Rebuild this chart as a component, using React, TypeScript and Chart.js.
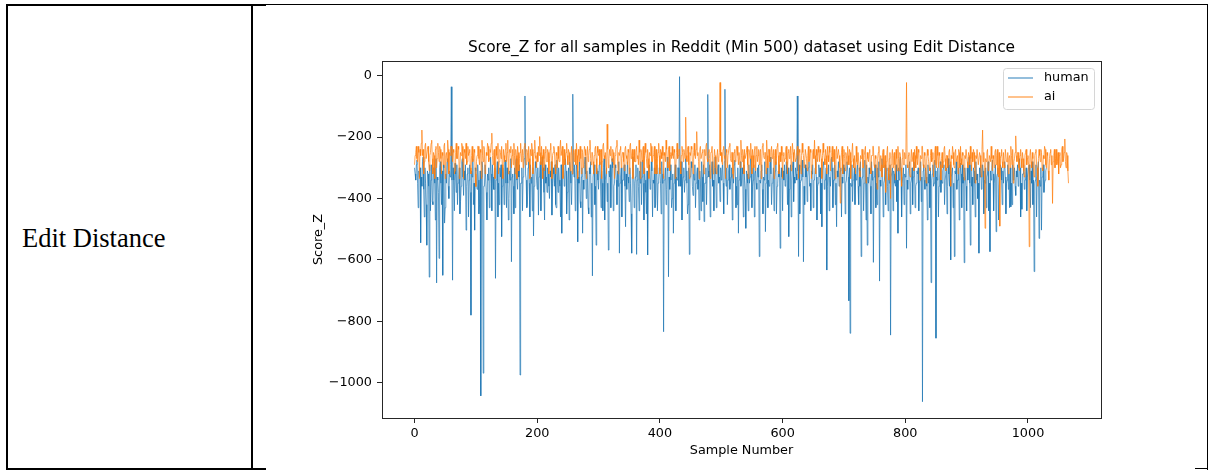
import React, { useEffect, useRef } from "react";
import { Chart, registerables } from "chart.js";

Chart.register(...registerables);

// ---- data (one value per sample number) ----
const SAMPLE_STEP = 1;

const seriesNames = ["human", "ai"];

const human = [
  -300, -320, -340, -290, -275, -350, -430, -310, -330, -300, -544, -330, -360, -280, -265, -370, -460, -300, -350, -420,
  -552, -310, -320, -360, -656, -290, -440, -340, -290, -410, -420, -300, -300, -350, -470, -270, -675, -330, -340, -380,
  -595, -300, -280, -350, -420, -310, -650, -290, -300, -480, -430, -320, -350, -280, -270, -360, -400, -310, -330, -290,
  -36, -340, -666, -300, -340, -440, -285, -320, -380, -290, -420, -350, -330, -300, -450, -410, -360, -280, -270, -330,
  -390, -310, -340, -290, -503, -360, -320, -300, -460, -340, -290, -380, -780, -310, -330, -270, -420, -350, -503, -300,
  -310, -350, -370, -290, -340, -450, -420, -310, -1043, -330, -280, -300, -969, -360, -360, -290, -290, -380, -470, -320,
  -340, -300, -430, -350, -265, -320, -440, -290, -330, -370, -370, -300, -660, -340, -310, -280, -460, -350, -420, -300,
  -330, -290, -524, -360, -300, -320, -420, -280, -275, -350, -430, -300, -350, -470, -400, -310, -340, -270, -606, -330,
  -320, -360, -450, -300, -430, -280, -270, -340, -370, -310, -330, -290, -975, -350, -350, -300, -440, -330, -300, -270,
  -66, -320, -340, -430, -420, -300, -280, -350, -460, -290, -350, -330, -440, -300, -522, -360, -330, -280, -300, -340,
  -370, -300, -454, -330, -320, -280, -440, -350, -265, -310, -300, -380, -470, -290, -350, -330, -380, -300, -320, -360,
  -400, -310, -330, -280, -454, -350, -300, -320, -360, -290, -420, -430, -275, -330, -380, -300, -340, -360, -460, -290,
  -513, -330, -320, -290, -360, -340, -270, -310, -450, -380, -340, -300, -470, -280, -310, -350, -420, -320, -60, -300,
  -330, -290, -440, -350, -290, -310, -541, -330, -350, -280, -410, -430, -330, -300, -513, -340, -370, -290, -265, -320,
  -400, -310, -340, -430, -450, -300, -320, -280, -460, -350, -652, -330, -330, -290, -420, -360, -552, -300, -310, -340,
  -370, -290, -280, -330, -430, -310, -350, -440, -300, -270, -470, -340, -340, -300, -410, -350, -568, -310, -330, -290,
  -430, -330, -270, -300, -440, -360, -350, -290, -300, -340, -420, -310, -360, -280, -578, -350, -330, -300, -460, -340,
  -340, -300, -290, -360, -492, -320, -370, -280, -330, -350, -410, -300, -350, -450, -578, -330, -265, -300, -430, -350,
  -330, -290, -582, -340, -300, -360, -440, -310, -350, -280, -420, -330, -275, -350, -470, -300, -340, -380, -450, -310,
  -584, -330, -330, -290, -370, -350, -280, -310, -460, -340, -350, -300, -430, -420, -320, -290, -440, -350, -340, -300,
  -310, -350, -450, -280, -350, -320, -834, -340, -330, -300, -420, -370, -265, -310, -655, -330, -370, -290, -340, -430,
  -400, -320, -513, -350, -320, -290, -440, -330, -340, -300, -300, -360, -3, -320, -360, -280, -470, -350, -330, -300,
  -380, -340, -270, -310, -350, -450, -420, -300, -582, -330, -330, -280, -300, -360, -390, -320, -340, -290, -430, -350,
  -320, -300, -370, -340, -470, -310, -340, -440, -280, -330, -410, -290, -475, -350, -350, -300, -420, -330, -61, -310,
  -330, -290, -460, -350, -310, -280, -360, -340, -440, -300, -265, -320, -430, -360, -300, -290, -350, -330, -410, -300,
  -340, -310, -290, -350, -450, -280, -44, -330, -360, -300, -420, -340, -310, -290, -370, -350, -330, -300, -470, -320,
  -350, -290, -275, -330, -430, -360, -420, -300, -513, -340, -330, -280, -360, -350, -300, -320, -460, -290, -340, -370,
  -497, -310, -320, -350, -440, -290, -350, -330, -270, -300, -430, -360, -340, -290, -460, -320, -310, -350, -370, -300,
  -330, -290, -589, -340, -350, -310, -290, -370, -450, -330, -340, -280, -508, -350, -320, -300, -430, -340, -360, -290,
  -265, -320, -420, -350, -340, -300, -440, -330, -310, -280, -450, -360, -350, -310, -330, -290, -562, -340, -300, -330,
  -440, -310, -340, -290, -360, -350, -280, -320, -420, -300, -524, -370, -330, -290, -460, -340, -300, -280, -410, -330,
  -350, -300, -320, -340, -66, -310, -589, -290, -450, -350, -340, -300, -275, -330, -606, -360, -420, -290, -330, -300,
  -410, -330, -300, -280, -360, -350, -440, -310, -320, -290, -430, -340, -340, -300, -270, -330, -470, -360, -350, -290,
  -330, -300, -450, -350, -492, -310, -290, -280, -370, -340, -340, -300, -633, -360, -320, -290, -440, -330, -360, -310,
  -265, -300, -430, -340, -340, -290, -420, -350, -492, -310, -330, -280, -360, -340, -310, -300, -460, -330, -350, -290,
  -320, -300, -450, -350, -340, -280, -280, -330, -733, -300, -839, -350, -360, -290, -410, -340, -330, -300, -420, -320,
  -340, -310, -290, -360, -420, -300, -360, -280, -589, -340, -330, -300, -440, -350, -275, -320, -470, -290, -552, -330,
  -350, -300, -320, -360, -450, -280, -340, -310, -608, -330, -300, -290, -430, -350, -420, -300, -330, -280, -669, -340,
  -360, -300, -270, -330, -460, -350, -340, -290, -420, -310, -300, -360, -440, -320, -350, -290, -845, -330, -330, -300,
  -440, -310, -320, -350, -360, -290, -410, -340, -513, -300, -340, -280, -265, -330, -460, -350, -350, -300, -420, -320,
  -330, -290, -562, -340, -370, -310, -310, -280, -450, -350, -340, -300, -420, -330, -280, -290, -430, -360, -350, -310,
  -320, -300, -440, -350, -340, -280, -410, -330, -1062, -310, -290, -340, -370, -300, -330, -360, -470, -290, -350, -320,
  -430, -300, -674, -340, -320, -290, -360, -350, -275, -310, -855, -330, -340, -300, -460, -360, -330, -280, -380, -340,
  -350, -310, -300, -290, -420, -340, -340, -300, -450, -360, -270, -320, -360, -290, -600, -330, -330, -300, -430, -350,
  -589, -310, -320, -280, -370, -340, -340, -300, -470, -350, -285, -320, -430, -290, -350, -330, -609, -300, -330, -360,
  -440, -300, -340, -310, -265, -350, -552, -290, -360, -330, -420, -300, -310, -350, -460, -280, -340, -320, -400, -350,
  -578, -300, -330, -290, -370, -350, -290, -310, -450, -340, -350, -300, -430, -330, -320, -280, -440, -350, -573, -310,
  -340, -300, -275, -320, -440, -350, -350, -290, -508, -330, -320, -300, -470, -360, -360, -290, -300, -340, -420, -310,
  -350, -300, -280, -330, -450, -350, -340, -290, -370, -320, -430, -300, -427, -350, -420, -290, -340, -330, -300, -360,
  -390, -310, -330, -290, -360, -340, -270, -300, -460, -350, -435, -320, -320, -290, -370, -340, -340, -300, -440, -330,
  -330, -300, -290, -340, -430, -310, -350, -280, -420, -340, -638, -350, -340, -290, -460, -330, -300, -280, -530, -340,
  -360, -300, -503, -330, -320, -290, -380, -350, -340, -310, -300,
];

const ai = [
  -290, -260, -250, -230, -270, -280, -230, -250, -335, -240, -260, -220, -177, -260, -240, -320, -280, -230, -220, -270,
  -270, -240, -230, -280, -310, -260, -250, -220, -210, -270, -320, -250, -260, -335, -240, -230, -300, -270, -220, -250,
  -280, -230, -240, -270, -320, -250, -260, -290, -230, -220, -335, -260, -250, -280, -210, -240, -320, -250, -260, -230,
  -230, -260, -280, -240, -250, -320, -310, -250, -220, -270, -270, -230, -240, -335, -290, -250, -260, -220, -230, -280,
  -335, -240, -250, -270, -220, -290, -280, -230, -260, -250, -240, -300, -320, -260, -230, -280, -270, -240, -250, -320,
  -361, -280, -260, -230, -230, -270, -290, -240, -250, -335, -210, -260, -280, -230, -240, -320, -300, -250, -260, -220,
  -230, -280, -270, -240, -250, -220, -187, -260, -290, -250, -240, -335, -310, -230, -260, -270, -220, -320, -280, -240,
  -250, -270, -230, -290, -335, -240, -260, -280, -240, -220, -280, -250, -210, -320, -270, -240, -250, -230, -300, -260,
  -240, -290, -220, -260, -320, -240, -260, -335, -230, -250, -310, -270, -250, -220, -280, -260, -240, -300, -260, -230,
  -220, -260, -290, -240, -250, -280, -230, -270, -335, -240, -260, -220, -240, -320, -280, -250, -210, -260, -270, -300,
  -250, -280, -230, -260, -198, -250, -290, -230, -260, -335, -240, -270, -310, -250, -230, -280, -280, -240, -250, -320,
  -270, -240, -220, -280, -335, -260, -250, -230, -240, -290, -320, -250, -260, -300, -230, -270, -280, -240, -210, -260,
  -260, -230, -335, -270, -240, -290, -270, -250, -220, -260, -290, -240, -250, -280, -310, -260, -230, -320, -260, -240,
  -280, -250, -240, -290, -220, -260, -335, -240, -260, -280, -230, -270, -320, -240, -250, -300, -270, -230, -240, -260,
  -335, -260, -230, -280, -260, -240, -210, -270, -290, -250, -250, -280, -320, -260, -240, -230, -270, -320, -230, -250,
  -260, -240, -290, -250, -240, -335, -280, -230, -220, -260, -270, -250, -250, -320, -158, -240, -300, -270, -240, -260,
  -230, -270, -280, -240, -250, -290, -335, -260, -240, -230, -210, -280, -320, -250, -260, -240, -230, -300, -270, -250,
  -250, -280, -310, -240, -230, -260, -270, -290, -240, -250, -320, -230, -220, -270, -260, -240, -335, -260, -240, -280,
  -280, -250, -230, -270, -260, -290, -210, -250, -335, -240, -250, -280, -240, -230, -320, -260, -220, -250, -270, -300,
  -240, -270, -335, -250, -260, -220, -230, -280, -280, -260, -250, -230, -320, -270, -240, -320, -270, -250, -220, -260,
  -320, -240, -250, -270, -230, -260, -335, -250, -260, -280, -210, -240, -280, -300, -240, -230, -310, -260, -250, -270,
  -230, -260, -270, -240, -250, -335, -290, -250, -220, -270, -260, -240, -240, -280, -320, -260, -230, -250, -280, -240,
  -250, -270, -135, -260, -280, -240, -230, -290, -335, -250, -260, -230, -240, -280, -320, -250, -220, -260, -270, -240,
  -182, -260, -250, -280, -335, -240, -230, -270, -270, -250, -240, -300, -320, -240, -260, -230, -220, -270, -280, -250,
  -240, -270, -335, -250, -250, -230, -230, -320, -280, -240, -260, -300, -320, -260, -240, -280, -270, -250, -22, -260,
  -250, -280, -290, -240, -230, -260, -270, -335, -240, -250, -300, -260, -260, -230, -220, -270, -280, -250, -250, -320,
  -335, -250, -240, -280, -270, -230, -230, -260, -290, -250, -250, -300, -210, -260, -280, -240, -260, -320, -240, -270,
  -270, -250, -230, -290, -335, -240, -250, -270, -220, -260, -320, -240, -260, -300, -240, -230, -310, -260, -230, -280,
  -260, -240, -290, -250, -240, -335, -280, -230, -220, -260, -270, -250, -250, -320, -210, -260, -300, -240, -240, -280,
  -280, -250, -230, -270, -260, -240, -335, -260, -240, -290, -270, -230, -220, -260, -320, -250, -250, -280, -230, -260,
  -335, -260, -250, -280, -270, -240, -230, -290, -320, -250, -240, -270, -260, -230, -310, -260, -220, -250, -280, -240,
  -240, -280, -270, -250, -230, -260, -335, -240, -250, -290, -320, -260, -220, -250, -260, -300, -280, -240, -240, -270,
  -310, -260, -230, -280, -270, -240, -250, -335, -290, -250, -240, -270, -210, -260, -320, -240, -260, -280, -230, -250,
  -280, -240, -250, -270, -335, -260, -220, -250, -270, -290, -240, -260, -320, -230, -260, -280, -230, -250, -310, -270,
  -250, -230, -280, -260, -240, -290, -335, -250, -230, -270, -270, -240, -260, -300, -415, -280, -250, -230, -320, -260,
  -240, -270, -310, -250, -260, -290, -230, -260, -290, -240, -250, -335, -280, -250, -220, -270, -300, -260, -260, -320,
  -230, -280, -290, -250, -250, -310, -330, -260, -270, -240, -240, -300, -300, -260, -260, -230, -350, -290, -250, -270,
  -280, -250, -240, -300, -320, -260, -260, -230, -230, -290, -300, -260, -270, -320, -370, -270, -250, -230, -290, -310,
  -260, -290, -330, -250, -240, -300, -290, -260, -380, -280, -250, -230, -300, -340, -270, -250, -400, -290, -260, -240,
  -300, -260, -250, -290, -340, -240, -270, -310, -230, -270, -310, -250, -260, -300, -360, -270, -240, -290, -290, -250,
  -270, -250, -22, -290, -300, -260, -250, -320, -330, -270, -240, -280, -280, -250, -310, -240, -260, -300, -230, -270,
  -290, -240, -250, -300, -340, -260, -270, -230, -230, -290, -300, -250, -260, -310, -350, -270, -240, -260, -280, -300,
  -310, -260, -240, -280, -270, -250, -330, -280, -250, -230, -290, -300, -230, -260, -300, -250, -260, -290, -340, -270,
  -250, -300, -280, -240, -230, -270, -310, -260, -260, -300, -290, -250, -240, -280, -360, -260, -270, -230, -250, -290,
  -300, -250, -240, -280, -280, -260, -320, -240, -250, -300, -230, -270, -290, -250, -260, -310, -340, -260, -270, -240,
  -240, -280, -300, -250, -260, -290, -230, -270, -310, -250, -280, -240, -250, -300, -350, -260, -270, -240, -240, -290,
  -290, -250, -260, -300, -330, -240, -177, -280, -250, -300, -497, -270, -280, -250, -240, -310, -300, -260, -260, -280,
  -230, -270, -310, -260, -270, -300, -250, -240, -290, -260, -240, -320, -330, -250, -490, -270, -260, -240, -280, -300,
  -250, -290, -300, -240, -240, -280, -280, -250, -320, -270, -260, -300, -230, -260, -290, -240, -350, -280, -270, -250,
  -196, -260, -280, -250, -250, -300, -310, -260, -240, -270, -300, -250, -270, -310, -330, -260, -250, -240, -290, -270,
  -260, -290, -557, -260, -240, -280, -300, -250, -270, -310, -330, -260, -250, -240, -290, -300, -360, -270, -240, -260,
  -280, -240, -250, -300, -310, -260, -270, -230, -240, -290, -300, -250, -260, -310, -340, -270, -250, -240, -290, -260,
  -416, -280, -260, -240, -300, -270, -240, -290, -280, -250, -320, -260, -250, -300, -290, -240, -230, -280, -270, -250,
  -206, -280, -300, -250, -260, -310, -350,
];

const xTicks = [0, 200, 400, 600, 800, 1000];
const yTicks = [-1000, -800, -600, -400, -200, 0];
const X_MIN = -53;
const X_MAX = 1119;
const Y_MIN = -1115;
const Y_MAX = 48;

const chartTitle = "Score_Z for all samples in Reddit (Min 500) dataset using Edit Distance";
const xLabel = "Sample Number";
const yLabel = "Score_Z";
const rowLabel = "Edit Distance";

// ---- styles ----
const FONT = '"DejaVu Sans", Verdana, sans-serif';
const HUMAN_COLOR = "rgba(31,119,180,0.8)";
const AI_COLOR = "rgba(255,127,14,0.8)";
const seriesColors = [HUMAN_COLOR, AI_COLOR];

const fmt = (v: number) => (v < 0 ? "\u2212" + Math.abs(v) : String(v));

const decorPlugin = {
  id: "decor",
  afterDraw(chart: any) {
    const { ctx, chartArea: a } = chart;
    ctx.save();
    // spines
    ctx.strokeStyle = "#262626";
    ctx.lineWidth = 1;
    ctx.strokeRect(
      Math.round(a.left) + 0.5,
      Math.round(a.top) + 0.5,
      Math.round(a.right - a.left),
      Math.round(a.bottom - a.top)
    );
    // title
    ctx.fillStyle = "#000";
    ctx.textAlign = "center";
    ctx.textBaseline = "middle";
    ctx.font = `15.4px ${FONT}`;
    ctx.fillText(chartTitle, (a.left + a.right) / 2, a.top - 13);
    // x label
    ctx.font = `12.8px ${FONT}`;
    ctx.fillText(xLabel, (a.left + a.right) / 2, a.bottom + 33);
    // y label
    ctx.save();
    ctx.translate(a.left - 63, (a.top + a.bottom) / 2);
    ctx.rotate(-Math.PI / 2);
    ctx.fillText(yLabel, 0, 0);
    ctx.restore();
    // legend
    const bw = 91;
    const bh = 41;
    const bx = a.right - 7 - bw;
    const by = a.top + 7;
    ctx.beginPath();
    ctx.roundRect(bx + 0.5, by + 0.5, bw, bh, 3);
    ctx.fillStyle = "rgba(255,255,255,0.8)";
    ctx.fill();
    ctx.strokeStyle = "#d6d6d6";
    ctx.lineWidth = 1;
    ctx.stroke();
    ctx.textAlign = "left";
    ctx.font = `12.8px ${FONT}`;
    seriesNames.forEach((name, i) => {
      const ly = by + 10 + i * 19;
      ctx.strokeStyle = seriesColors[i];
      ctx.lineWidth = 1.2;
      ctx.beginPath();
      ctx.moveTo(bx + 5, ly);
      ctx.lineTo(bx + 30, ly);
      ctx.stroke();
      ctx.fillStyle = "#000";
      ctx.fillText(name, bx + 41, ly);
    });
    ctx.restore();
  },
};

const tickFont = { family: FONT, size: 12.8 };

export default function App() {
  const ref = useRef<HTMLCanvasElement | null>(null);

  useEffect(() => {
    if (!ref.current) return;
    const chart = new Chart(ref.current, {
      type: "line",
      data: {
        datasets: [
          {
            label: seriesNames[0],
            data: human.map((y, i) => ({ x: i * SAMPLE_STEP, y })),
            borderColor: HUMAN_COLOR,
            borderWidth: 0.9,
            pointRadius: 0,
            tension: 0,
            fill: false,
            borderJoinStyle: "round",
            order: 1,
          },
          {
            label: seriesNames[1],
            data: ai.map((y, i) => ({ x: i * SAMPLE_STEP, y })),
            borderColor: AI_COLOR,
            borderWidth: 0.9,
            pointRadius: 0,
            tension: 0,
            fill: false,
            borderJoinStyle: "round",
            order: 0,
          },
        ],
      },
      options: {
        animation: false,
        responsive: false,
        events: [],
        layout: { padding: { top: 51, right: 99, left: 0, bottom: 0 } },
        plugins: {
          legend: { display: false },
          title: { display: false },
          tooltip: { enabled: false },
        },
        scales: {
          x: {
            type: "linear",
            min: X_MIN,
            max: X_MAX,
            border: { display: false },
            grid: {
              display: true,
              drawOnChartArea: false,
              drawTicks: true,
              tickLength: 5,
              color: "#262626",
              lineWidth: 1,
            },
            ticks: {
              font: tickFont,
              color: "#000",
              padding: 3,
              maxRotation: 0,
              autoSkip: false,
              callback: (v: any) => fmt(Number(v)),
            },
            afterBuildTicks: (s: any) => {
              s.ticks = xTicks.map((value) => ({ value }));
            },
            afterFit: (s: any) => {
              s.height = 47;
            },
          },
          y: {
            type: "linear",
            min: Y_MIN,
            max: Y_MAX,
            border: { display: false },
            grid: {
              display: true,
              drawOnChartArea: false,
              drawTicks: true,
              tickLength: 5,
              color: "#262626",
              lineWidth: 1,
            },
            ticks: {
              font: tickFont,
              color: "#000",
              padding: 5,
              autoSkip: false,
              callback: (v: any) => fmt(Number(v)),
            },
            afterBuildTicks: (s: any) => {
              s.ticks = yTicks.map((value) => ({ value }));
            },
            afterFit: (s: any) => {
              s.width = 122;
            },
          },
        },
      } as any,
      plugins: [decorPlugin],
    });
    return () => chart.destroy();
  }, []);

  const line = (l: number, t: number, w: number, h: number) => (
    <div style={{ position: "absolute", left: l, top: t, width: w, height: h, background: "#000" }} />
  );

  return (
    <div style={{ position: "absolute", left: 0, top: 0, width: 1209, height: 470, background: "#fff", overflow: "hidden" }}>
      {line(6, 4, 260, 2)}
      {line(266, 4, 942, 1)}
      {line(6, 4, 2, 466)}
      {line(251, 4, 2, 466)}
      {line(6, 468, 260, 2)}
      {line(1207, 4, 1, 466)}
      {line(1195, 468, 13, 1)}
      <div
        style={{
          position: "absolute",
          left: 22,
          top: 223,
          fontFamily: '"Liberation Serif", "Times New Roman", serif',
          fontSize: 26.5,
          lineHeight: "30px",
          color: "#000",
          whiteSpace: "nowrap",
        }}
      >
        {rowLabel}
      </div>
      <canvas
        ref={ref}
        width={940}
        height={455}
        style={{ position: "absolute", left: 260, top: 10, width: 940, height: 455 }}
      />
    </div>
  );
}
